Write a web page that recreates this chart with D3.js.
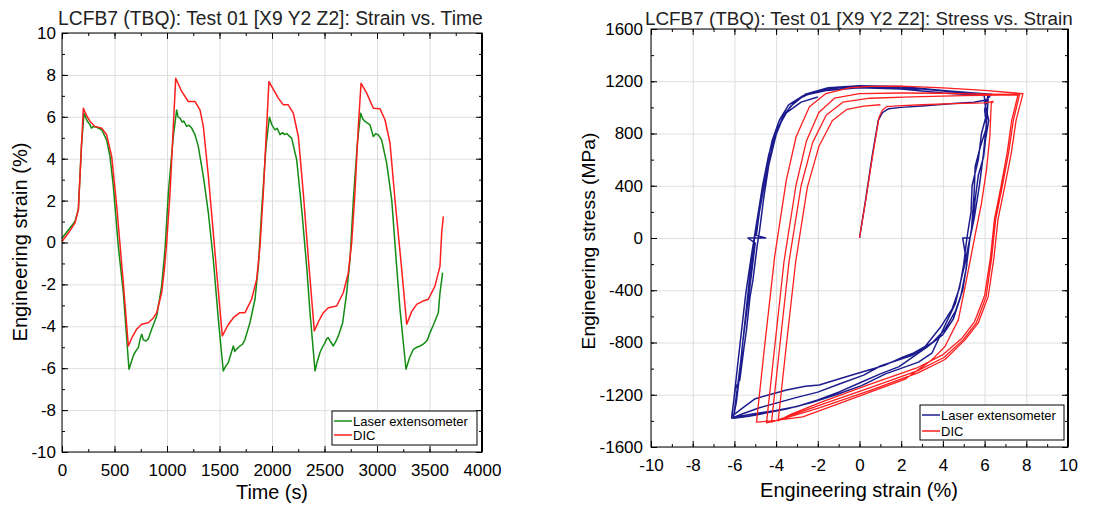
<!DOCTYPE html>
<html>
<head>
<meta charset="utf-8">
<script src="https://cdn.jsdelivr.net/npm/d3@7"></script>
<style>
  body { margin: 0; background: #fff; }
  text { font-family: "Liberation Sans", Arial, sans-serif; }
</style>
</head>
<body>
<svg id="chart" width="1094" height="510"></svg>
<script>
// strain vs. time: [time (s), engineering strain (%)]
const laserStrainTime = [[0,0.2],[60,0.6],[124,1.0],[156,1.6],[185,4.6],[210,6.17],[240,5.8],[267,5.62],[280,5.46],[300,5.54],[330,5.5],[378,5.38],[425,4.9],[457,4.11],[489,2.68],[536,-0.17],[584,-2.4],[638,-6.05],[660,-5.7],[679,-5.41],[700,-5.2],[727,-5.02],[745,-4.6],[759,-4.38],[775,-4.65],[800,-4.7],[822,-4.6],[854,-4.14],[902,-3.51],[949,-2.08],[981,-0.33],[1013,2.37],[1060,5.06],[1092,6.33],[1105,6.0],[1124,5.94],[1145,5.75],[1160,5.8],[1187,5.54],[1210,5.6],[1235,5.46],[1267,5.14],[1298,4.59],[1346,3.16],[1394,1.41],[1441,-0.81],[1489,-3.67],[1536,-6.13],[1560,-5.9],[1584,-5.73],[1610,-5.3],[1632,-4.94],[1645,-5.2],[1660,-5.1],[1695,-4.94],[1720,-4.85],[1743,-4.62],[1790,-3.83],[1838,-2.71],[1870,-1.13],[1902,1.57],[1943,4.59],[1975,5.98],[2000,5.6],[2029,5.38],[2050,5.45],[2076,5.14],[2100,5.25],[2120,5.15],[2140,5.2],[2160,5.1],[2187,4.98],[2235,3.95],[2283,1.57],[2330,-1.13],[2362,-3.35],[2410,-6.13],[2430,-5.7],[2457,-5.25],[2480,-5.0],[2505,-4.78],[2520,-4.6],[2536,-4.54],[2560,-4.75],[2584,-4.94],[2610,-4.7],[2632,-4.46],[2673,-3.83],[2711,-2.4],[2743,-0.81],[2775,2.05],[2813,4.75],[2844,6.17],[2865,5.9],[2886,5.78],[2910,5.7],[2933,5.62],[2965,5.06],[2990,5.2],[3013,5.14],[3044,4.9],[3092,3.79],[3140,2.05],[3187,-1.13],[3219,-3.19],[3276,-6.05],[3310,-5.5],[3346,-5.1],[3380,-5.0],[3410,-4.94],[3440,-4.85],[3457,-4.78],[3480,-4.65],[3505,-4.3],[3540,-3.9],[3584,-3.35],[3600,-2.4],[3625,-1.44]];

const dicStrainTime = [[0,0.05],[60,0.45],[124,0.94],[156,1.57],[203,6.41],[235,6.05],[267,5.78],[314,5.54],[378,5.46],[425,5.14],[473,4.11],[521,1.73],[580,-1.7],[632,-4.94],[670,-4.5],[711,-4.14],[759,-3.9],[822,-3.83],[870,-3.6],[902,-3.35],[949,-2.4],[975,-1.3],[997,0],[1029,2.37],[1060,5.54],[1083,7.84],[1140,7.21],[1203,6.73],[1267,6.73],[1314,6.33],[1346,5.54],[1394,3.16],[1441,0.46],[1490,-2.4],[1527,-4.46],[1580,-3.95],[1632,-3.59],[1695,-3.35],[1743,-3.35],[1806,-2.71],[1854,-1.76],[1886,-0.17],[1917,2.37],[1949,5.54],[1971,7.68],[2060,6.89],[2108,6.57],[2155,6.57],[2203,6.17],[2251,5.06],[2298,2.37],[2350,-1.0],[2403,-4.22],[2450,-3.7],[2489,-3.35],[2536,-3.11],[2616,-3.03],[2679,-2.4],[2727,-1.44],[2759,0],[2790,2.37],[2822,5.54],[2848,7.6],[2902,7.13],[2965,6.41],[3029,6.38],[3076,5.86],[3124,4.75],[3171,2.05],[3230,-1.0],[3283,-3.9],[3330,-3.3],[3378,-2.95],[3441,-2.79],[3489,-2.71],[3552,-2.08],[3600,-1.13],[3616,0.46],[3632,1.25]];

// stress vs. strain: [engineering strain (%), engineering stress (MPa)]
const laserStressStrain = [[0,0],[0.3,300],[0.6,620],[0.9,900],[1.1,960],[1.4,990],[2,1000],[3,1010],[4.5,1030],[5.5,1040],[6.17,1060],
  [6.1,900],[5.95,650],[5.75,400],[5.5,150],[5.3,0],[5.1,-250],[4.85,-450],[4.5,-620],[4.0,-740],[3.2,-840],[1.9,-985],[1.0,-1040],[0,-1110],[-1.0,-1180],[-2,-1240],[-3.0,-1290],[-4,-1320],[-5.2,-1350],[-6.05,-1375],
  [-5.9,-1250],[-5.75,-1050],[-5.6,-800],[-5.4,-550],[-5.2,-300],[-5.0,-40],[-5.35,0],[-4.5,0],[-4.95,20],[-4.8,200],[-4.6,380],[-4.35,580],[-4.05,780],[-3.7,920],[-3.3,1010],[-2.6,1100],[-1.5,1150],[0,1165],[2,1160],[4,1130],[5.5,1110],[6.33,1100],
  [6.0,1040],[6.2,900],[6.05,760],[5.95,620],[5.7,480],[5.55,300],[5.45,150],[5.3,0],[4.95,0],[5.15,-200],[4.95,-400],[4.6,-560],[4.1,-700],[3.5,-800],[2.5,-900],[1.0,-980],[0.2,-1050],[-1,-1120],[-2.0,-1180],[-3,-1220],[-4.8,-1300],[-5.6,-1345],[-6.13,-1380],
  [-6.0,-1200],[-5.85,-980],[-5.65,-700],[-5.45,-420],[-5.2,-150],[-5.0,50],[-4.75,300],[-4.5,520],[-4.2,740],[-3.85,900],[-3.4,1020],[-2.7,1090],[-1.6,1130],[0,1150],[2,1140],[4,1110],[5.98,1090],
  [6.1,950],[5.85,800],[5.7,600],[5.4,400],[5.35,200],[5.15,0],[5.0,-200],[4.8,-380],[4.45,-540],[3.9,-680],[3.15,-830],[2.6,-880],[2.04,-915],[1.2,-975],[0.45,-1010],[-0.6,-1060],[-1.93,-1126],[-2.6,-1135],[-3.5,-1164],[-5.0,-1230],[-5.6,-1300],[-6.13,-1365],
  [-5.95,-1150],[-5.74,-1086],[-5.55,-850],[-5.42,-703],[-5.25,-450],[-5.11,-321],[-4.9,-50],[-4.79,61],[-4.6,300],[-4.35,560],[-4.0,790],[-3.6,950],[-3.0,1060],[-2.2,1120],[-1,1150],[1,1155],[3,1140],[5,1110],[6.17,1095],
  [6.0,980],[6.1,850],[5.8,700],[5.55,550],[5.5,350],[5.37,61],[5.06,-193],[4.6,-500],[3.47,-882],[2.83,-950],[1.25,-1040],[0.1,-1130],[-1.13,-1200],[-2.3,-1260],[-3.51,-1310],[-5.3,-1365],[-6.05,-1380],
  [-5.9,-1200],[-5.7,-950],[-5.5,-650],[-5.3,-350],[-5.1,-80],[-4.9,150],[-4.65,400],[-4.35,640],[-4.0,820],[-3.5,960],[-2.8,1040],[-2.0,1080]];

const dicStressStrain = [[0,0],[0.3,290],[0.6,600],[0.93,920],[1.1,980],[1.3,1005],[1.8,1012],[3,1020],[4.5,1028],[6.0,1035],[6.41,1045],
  [6.32,1030],[6.25,775],[6.09,520],[5.85,265],[5.53,10],[5.13,-321],[4.74,-627],[4.1,-831],[3.47,-933],[2.2,-1080],[-0.34,-1230],[-2.72,-1370],[-4.2,-1400],[-4.94,-1410],
  [-4.6,-900],[-4.07,-143],[-3.51,443],[-3.04,775],[-2.4,1004],[-1.61,1106],[-0.5,1150],[0.5,1160],[2.0,1162],[4.0,1150],[6.0,1130],[7.84,1105],
  [7.51,900],[7.28,650],[6.96,390],[6.64,140],[6.45,-150],[6.17,-449],[5.69,-652],[5.06,-780],[4.1,-930],[2.83,-1030],[0.45,-1170],[-1.93,-1300],[-3.6,-1380],[-4.46,-1415],
  [-4.1,-880],[-3.62,-180],[-3.05,400],[-2.55,740],[-1.95,960],[-1.2,1070],[0,1105],[2,1110],[4,1108],[6,1102],[7.68,1100],
  [7.38,900],[7.15,650],[6.84,390],[6.53,140],[6.34,-150],[6.07,-449],[5.6,-650],[4.98,-778],[4.05,-915],[2.8,-1015],[0.45,-1150],[-1.9,-1280],[-3.5,-1370],[-4.22,-1410],
  [-3.86,-880],[-3.38,-180],[-2.8,400],[-2.25,730],[-1.6,940],[-0.8,1040],[0.5,1070],[2.5,1080],[5,1090],[7.6,1095],
  [7.3,900],[7.08,650],[6.78,390],[6.47,140],[6.28,-150],[6.0,-440],[5.52,-640],[4.9,-770],[3.98,-895],[2.75,-995],[0.45,-1122],[-1.8,-1255],[-3.3,-1350],[-3.9,-1400],
  [-3.55,-880],[-3.06,-180],[-2.5,390],[-1.95,700],[-1.3,900],[-0.6,985],[0.2,1010],[1.0,1020]];

const timeTicks = [0, 500, 1000, 1500, 2000, 2500, 3000, 3500, 4000];
const timeMinor = d3.range(0, 4001, 250);
const strainTicks = [-10, -8, -6, -4, -2, 0, 2, 4, 6, 8, 10];
const strainMinor = d3.range(-10, 11, 1);
const stressTicks = [-1600, -1200, -800, -400, 0, 400, 800, 1200, 1600];
const stressMinor = d3.range(-1600, 1601, 200);
const seriesNames = ["Laser extensometer", "DIC"];

const svg = d3.select("#chart");

// scale a text's font size so it spans the given width
function fitText(t, width) {
  const w = t.node().getComputedTextLength();
  t.attr("font-size", parseFloat(t.attr("font-size")) * width / w);
}

function addTicks(g, axis, pos, values, size, labels, pad) {
  const a = g.append("g").attr("transform", pos)
    .call(axis.tickValues(values).tickSize(-size).tickPadding(pad || 0)
      .tickFormat(labels ? d => String(d) : ""));
  a.select(".domain").remove();
  a.attr("font-family", null).attr("font-size", null);
  a.selectAll("line").attr("stroke", "#000");
  a.selectAll("text").attr("font-size", 17).attr("fill", "#000");
  return a;
}

function drawPanel(p) {
  const x = d3.scaleLinear().domain(p.xDomain).range([p.left, p.right]);
  const y = d3.scaleLinear().domain(p.yDomain).range([p.bottom, p.top]);
  const w = p.right - p.left, h = p.bottom - p.top;
  const g = svg.append("g");

  // grid
  const gx = g.append("g").attr("transform", `translate(0,${p.bottom})`)
    .call(d3.axisBottom(x).tickValues(p.xTicks).tickSize(-h).tickFormat(""));
  gx.select(".domain").remove();
  gx.selectAll("line").attr("stroke", "#dedede");
  const gy = g.append("g").attr("transform", `translate(${p.left},0)`)
    .call(d3.axisLeft(y).tickValues(p.yTicks).tickSize(-w).tickFormat(""));
  gy.select(".domain").remove();
  gy.selectAll("line").attr("stroke", "#dedede");

  // series
  const line = d3.line().x(d => x(d[0])).y(d => y(d[1]));
  p.series.forEach(s => {
    g.append("path").datum(s.data).attr("d", line)
      .attr("fill", "none").attr("stroke", s.color)
      .attr("stroke-width", s.width).attr("stroke-linejoin", "round");
  });

  // ticks on all four sides, pointing inward
  addTicks(g, d3.axisBottom(x), `translate(0,${p.bottom})`, p.xTicks, 6, true, 12);
  addTicks(g, d3.axisBottom(x), `translate(0,${p.bottom})`, p.xMinor, 3, false);
  addTicks(g, d3.axisTop(x), `translate(0,${p.top})`, p.xTicks, 6, false);
  addTicks(g, d3.axisTop(x), `translate(0,${p.top})`, p.xMinor, 3, false);
  addTicks(g, d3.axisLeft(y), `translate(${p.left},0)`, p.yTicks, 6, true, p.yPad);
  addTicks(g, d3.axisLeft(y), `translate(${p.left},0)`, p.yMinor, 3, false);
  addTicks(g, d3.axisRight(y), `translate(${p.right},0)`, p.yTicks, 6, false);
  addTicks(g, d3.axisRight(y), `translate(${p.right},0)`, p.yMinor, 3, false);

  g.append("rect").attr("x", p.left).attr("y", p.top).attr("width", w).attr("height", h)
    .attr("fill", "none").attr("stroke", "#000").attr("stroke-width", 1);
  g.append("line").attr("x1", p.right).attr("x2", p.right).attr("y1", p.top).attr("y2", p.bottom)
    .attr("stroke", "#000").attr("stroke-width", 2);

  // titles
  const t = g.append("text").attr("x", p.titleX).attr("y", 25).attr("font-size", 18)
    .attr("fill", "#222").text(p.title);
  fitText(t, p.titleW);
  const xl = g.append("text").attr("x", p.xLabelX).attr("y", p.xLabelY).attr("font-size", 20)
    .attr("text-anchor", "middle").attr("fill", "#000").text(p.xLabel);
  fitText(xl, p.xLabelW);
  const yl = g.append("text").attr("transform", `translate(${p.yLabelX},${p.yLabelY}) rotate(-90)`)
    .attr("font-size", 20).attr("text-anchor", "middle").attr("dy", "0.35em")
    .attr("fill", "#000").text(p.yLabel);
  fitText(yl, p.yLabelW);

  // legend
  const L = p.legend;
  g.append("rect").attr("x", L.x).attr("y", L.y).attr("width", L.w).attr("height", L.h)
    .attr("fill", "#fff").attr("stroke", "#000").attr("stroke-width", 1);
  p.series.forEach((s, i) => {
    const ly = L.y + L.rows[i];
    g.append("line").attr("x1", L.x + 2).attr("x2", L.x + 20).attr("y1", ly).attr("y2", ly)
      .attr("stroke", s.color).attr("stroke-width", 1.5);
    g.append("text").attr("x", L.x + 21).attr("y", ly).attr("dy", "0.36em")
      .attr("font-size", 13).attr("fill", "#000").text(seriesNames[i]);
  });
}

drawPanel({
  left: 62, right: 482, top: 33, bottom: 452,
  xDomain: [0, 4000], yDomain: [-10, 10],
  xTicks: timeTicks, xMinor: timeMinor, yTicks: strainTicks, yMinor: strainMinor, yPad: 6,
  series: [{ data: laserStrainTime, color: "#148c14", width: 1.5 }, { data: dicStrainTime, color: "#ff1e1e", width: 1.5 }],
  title: "LCFB7 (TBQ): Test 01 [X9 Y2 Z2]: Strain vs. Time", titleX: 58, titleW: 425,
  xLabel: "Time (s)", xLabelX: 272, xLabelY: 499, xLabelW: 72,
  yLabel: "Engineering strain (%)", yLabelX: 20, yLabelY: 242, yLabelW: 199,
  legend: { x: 332, y: 411, w: 145, h: 34, rows: [10, 24] }
});

drawPanel({
  left: 651, right: 1068, top: 29, bottom: 447,
  xDomain: [-10, 10], yDomain: [-1600, 1600],
  xTicks: strainTicks, xMinor: strainMinor, yTicks: stressTicks, yMinor: stressMinor, yPad: 8,
  series: [{ data: laserStressStrain, color: "#1c1c8e", width: 1.5 }, { data: dicStressStrain, color: "#ff1e1e", width: 1.3 }],
  title: "LCFB7 (TBQ): Test 01 [X9 Y2 Z2]: Stress vs. Strain", titleX: 645, titleW: 428,
  xLabel: "Engineering strain (%)", xLabelX: 859, xLabelY: 497, xLabelW: 198,
  yLabel: "Engineering stress (MPa)", yLabelX: 588, yLabelY: 241, yLabelW: 217,
  legend: { x: 920, y: 405, w: 144, h: 35, rows: [10, 26] }
});
</script>
</body>
</html>
